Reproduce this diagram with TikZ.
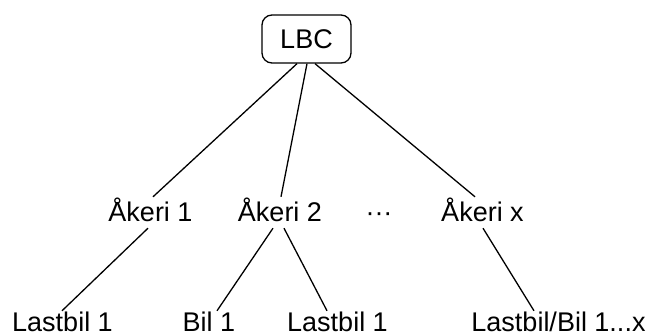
\documentclass[tikz,border=0pt]{standalone}
\usepackage{fontspec}
\setmainfont{Liberation Sans}
\begin{document}
\begin{tikzpicture}[x=1pt,y=-1pt,
  every node/.style={font=\fontsize{27}{32}\selectfont},
  rootbox/.style={draw,line width=1.3pt,rounded corners=10pt,minimum width=89pt,minimum height=48pt,inner sep=0pt},
  midlabel/.style={anchor=base,text height=24pt,text depth=5pt,inner sep=1pt},
  leaflabel/.style={anchor=base,text height=19.5pt,text depth=0pt,inner sep=1pt},
  link/.style={line width=1.3pt}]
\useasboundingbox (0,0) rectangle (651,336);

% root
\node[rootbox] (lbc) at (306.5,39) {LBC};

% haulage firms
\node[midlabel] (a1) at (150.5,222) {Åkeri 1};
\node[midlabel] (a2) at (280,222) {Åkeri 2};
\node[midlabel] (dots) at (379,222) {···};
\node[midlabel] (ax) at (482.5,222) {Åkeri x};

% vehicles
\node[leaflabel] (l1) at (62.5,331.5) {Lastbil 1};
\node[leaflabel] (b1) at (209,331.5) {Bil 1};
\node[leaflabel] (l2) at (337.5,331.5) {Lastbil 1};
\node[leaflabel] (lx) at (558.5,331.5) {Lastbil/Bil 1...x};

% connectors
\draw[link] ([xshift=-9.5pt]lbc.south) -- ([xshift=2.5pt]a1.north);
\draw[link] ([xshift=0.5pt]lbc.south) -- ([xshift=1pt]a2.north);
\draw[link] ([xshift=8.5pt]lbc.south) -- ([xshift=-7.5pt]ax.north);
\draw[link] ([xshift=-2.5pt]a1.south) -- ([xshift=-0.5pt]l1.north);
\draw[link] ([xshift=-7pt]a2.south) -- ([xshift=8pt]b1.north);
\draw[link] ([xshift=4pt]a2.south) -- ([xshift=-10.5pt]l2.north);
\draw[link] ([xshift=0.5pt]ax.south) -- ([xshift=-24.5pt]lx.north);
\end{tikzpicture}
\end{document}
